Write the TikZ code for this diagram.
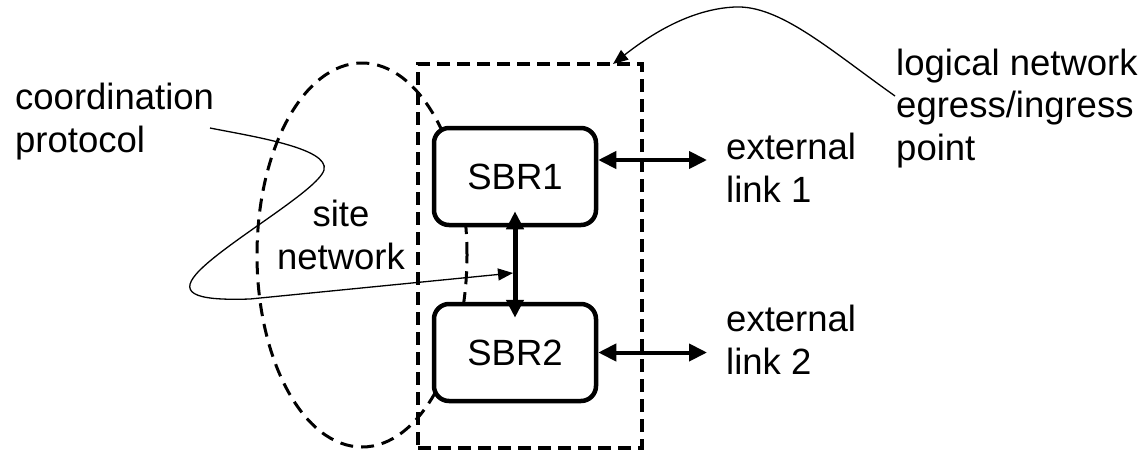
\documentclass[tikz,border=0pt]{standalone}
\usepackage{fontspec}
\setmainfont{Liberation Sans}
\usetikzlibrary{arrows.meta}
\begin{document}
\begin{tikzpicture}[x=1pt,y=-1pt,
  lbl/.style={font=\fontsize{36.5}{42.5}\selectfont, inner sep=0pt},
  router/.style={draw, line width=4.5pt, rounded corners=15pt, fill=white,
    minimum width=162pt, minimum height=97pt, inner sep=0pt,
    font=\fontsize{36.5}{42.5}\selectfont},
  region/.style={draw, line width=4.5pt, dash pattern=on 13pt off 7pt,
    minimum width=224pt, minimum height=384pt, inner sep=0pt},
  sitearea/.style={line width=3pt, dash pattern=on 13pt off 8pt},
  duplex/.style={line width=4pt,
    {Triangle[length=18pt,width=17pt]}-{Triangle[length=18pt,width=17pt]}},
  pointer/.style={line width=1.3pt, -{Triangle[length=15pt,width=12pt]}},
]
\fill[white] (0,0) rectangle (1147,453);
\useasboundingbox (0,0) rectangle (1147,453);

% logical network egress/ingress point (dashed box)
\node[region] (egress) at (530,256) {};
% site network (dashed ellipse)
\draw[sitearea] (362,255) ellipse [x radius=105pt, y radius=192pt];

% routers
\node[router] (sbr1) at (515,176.5) {SBR1};
\node[router] (sbr2) at (515,352.5) {SBR2};

% labels (base anchor = baseline of the last line)
\node[lbl, anchor=base west, align=left] (coordlbl) at (15,152) {coordination\\protocol};
\node[lbl, anchor=base, align=center] (sitelbl) at (341,269) {site\\network};
\node[lbl, anchor=base west, align=left] (ext1lbl) at (726,202) {external\\link 1};
\node[lbl, anchor=base west, align=left] (ext2lbl) at (726,374) {external\\link 2};
\node[lbl, anchor=base west, align=left] (logiclbl) at (896,160) {logical network\\egress/ingress\\point};

% external links
\coordinate (x1) at (707,160);
\coordinate (x2) at (707,352.5);
\draw[duplex] (sbr1.east |- x1) -- (x1);
\draw[duplex] (sbr2.east) -- (x2);
% internal link
\draw[duplex, line width=5pt] ([yshift=16pt]sbr1.south) -- ([yshift=-16pt]sbr2.north);

% coordination protocol pointer
\coordinate (cp) at (210,128);
\coordinate (cpend) at (513,273);
\draw[pointer] (cp) .. controls (250,136) and (330,148) .. (324,170)
  .. controls (318,190) and (230,240) .. (200,270)
  .. controls (178,292) and (190,301) .. (250,299) -- (cpend);

% logical network pointer
\coordinate (lg) at (895,96);
\coordinate (lgend) at (613,64);
\draw[pointer] (lg) .. controls (830,50) and (780,5) .. (735,7)
  .. controls (690,9) and (650,35) .. (lgend);
\end{tikzpicture}
\end{document}
